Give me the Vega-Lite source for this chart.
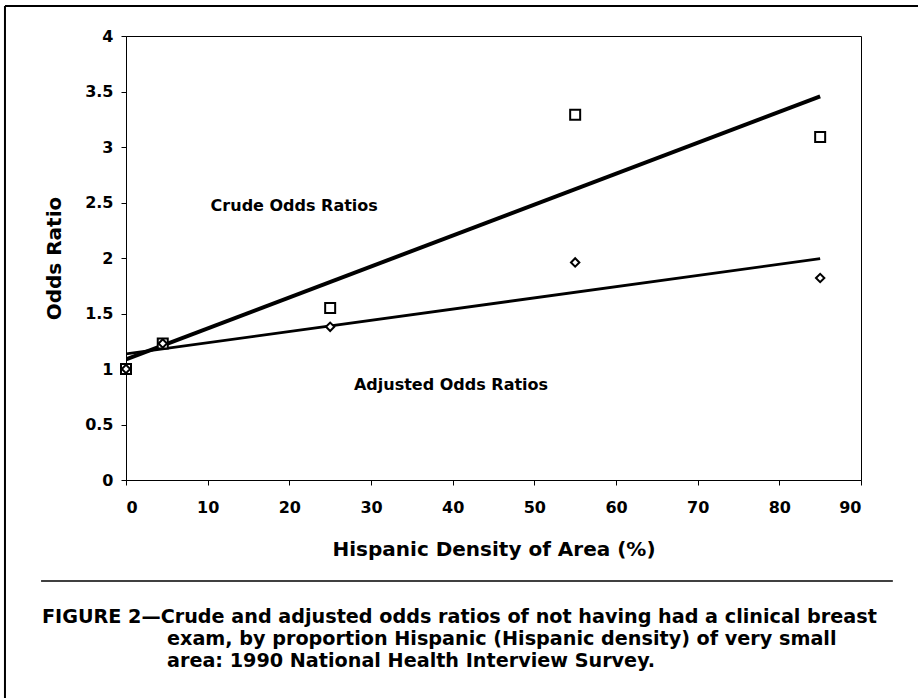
{
  "$schema": "https://vega.github.io/schema/vega-lite/v6.json",
  "width": 735,
  "height": 444,
  "autosize": {"type": "none"},
  "padding": {"left": 126, "top": 36, "right": 57, "bottom": 218},
  "background": "white",
  "config": {
    "font": "DejaVu Sans",
    "view": {"stroke": "black", "strokeWidth": 1},
    "axis": {
      "domainColor": "black",
      "domainWidth": 1,
      "tickColor": "black",
      "tickSize": 5,
      "labelFont": "DejaVu Sans",
      "labelFontWeight": "bold",
      "labelFontSize": 16,
      "labelColor": "black",
      "titleFont": "DejaVu Sans",
      "titleFontWeight": "bold",
      "titleFontSize": 20,
      "titleColor": "black",
      "grid": false
    }
  },
  "data": {
    "values": [
      {"density": 0, "odds": 1.0, "series": "Crude"},
      {"density": 4.5, "odds": 1.23, "series": "Crude"},
      {"density": 25, "odds": 1.55, "series": "Crude"},
      {"density": 55, "odds": 3.29, "series": "Crude"},
      {"density": 85, "odds": 3.09, "series": "Crude"},
      {"density": 0, "odds": 1.0, "series": "Adjusted"},
      {"density": 4.5, "odds": 1.23, "series": "Adjusted"},
      {"density": 25, "odds": 1.38, "series": "Adjusted"},
      {"density": 55, "odds": 1.96, "series": "Adjusted"},
      {"density": 85, "odds": 1.82, "series": "Adjusted"}
    ]
  },
  "layer": [
    {
      "transform": [{"regression": "odds", "on": "density", "groupby": ["series"]}],
      "mark": {"type": "line", "color": "black", "clip": true},
      "encoding": {
        "x": {
          "field": "density", "type": "quantitative",
          "scale": {"domain": [0, 90], "nice": false, "zero": false},
          "axis": {"values": [0,10,20,30,40,50,60,70,80,90], "title": "Hispanic Density of Area (%)", "labelPadding": 14, "titlePadding": 24}
        },
        "y": {
          "field": "odds", "type": "quantitative",
          "scale": {"domain": [0, 4], "nice": false, "zero": false},
          "axis": {"values": [0,0.5,1,1.5,2,2.5,3,3.5,4], "format": "~g", "title": "Odds Ratio", "labelPadding": 8, "titlePadding": 20}
        },
        "detail": {"field": "series"},
        "strokeWidth": {"field": "series", "type": "nominal", "scale": {"domain": ["Crude", "Adjusted"], "range": [4, 2.8]}, "legend": null}
      }
    },
    {
      "mark": {"type": "point", "filled": true, "fill": "white", "stroke": "black", "strokeWidth": 2, "opacity": 1},
      "encoding": {
        "x": {"field": "density", "type": "quantitative"},
        "y": {"field": "odds", "type": "quantitative"},
        "shape": {"field": "series", "type": "nominal", "scale": {"domain": ["Crude", "Adjusted"], "range": ["square", "diamond"]}, "legend": null},
        "size": {"field": "series", "type": "nominal", "scale": {"domain": ["Crude", "Adjusted"], "range": [100, 70]}, "legend": null}
      }
    },
    {
      "data": {"values": [{}]},
      "mark": {"type": "text", "text": "Crude Odds Ratios", "font": "DejaVu Sans", "fontWeight": "bold", "fontSize": 16, "align": "center", "baseline": "alphabetic", "color": "black"},
      "encoding": {"x": {"datum": 20.6}, "y": {"datum": 2.42}}
    },
    {
      "data": {"values": [{}]},
      "mark": {"type": "text", "text": "Adjusted Odds Ratios", "font": "DejaVu Sans", "fontWeight": "bold", "fontSize": 16, "align": "center", "baseline": "alphabetic", "color": "black"},
      "encoding": {"x": {"datum": 39.8}, "y": {"datum": 0.81}}
    },
    {
      "data": {"values": [{}]},
      "mark": {"type": "rule", "color": "black", "strokeWidth": 1.5},
      "encoding": {"x": {"datum": -10.4}, "x2": {"datum": 93.9}, "y": {"datum": -0.91}}
    },
    {
      "data": {"values": [{}]},
      "mark": {"type": "rule", "color": "black", "strokeWidth": 2},
      "encoding": {"x": {"datum": -14.82}, "y": {"datum": 4.27}, "y2": {"datum": -1.97}}
    },
    {
      "data": {"values": [{}]},
      "mark": {"type": "rule", "color": "black", "strokeWidth": 2},
      "encoding": {"x": {"datum": -14.82}, "x2": {"datum": 97}, "y": {"datum": 4.27}}
    },
    {
      "data": {"values": [{}]},
      "mark": {"type": "text", "text": "FIGURE 2\u2014Crude and adjusted odds ratios of not having had a clinical breast", "font": "DejaVu Sans", "fontWeight": "bold", "fontSize": 19.2, "align": "left", "baseline": "alphabetic", "color": "black"},
      "encoding": {"x": {"datum": -10.29}, "y": {"datum": -1.288}}
    },
    {
      "data": {"values": [{}]},
      "mark": {"type": "text", "text": ["exam, by proportion Hispanic (Hispanic density) of very small", "area: 1990 National Health Interview Survey."], "font": "DejaVu Sans", "fontWeight": "bold", "fontSize": 19.2, "lineHeight": 22, "align": "left", "baseline": "alphabetic", "color": "black"},
      "encoding": {"x": {"datum": 5.02}, "y": {"datum": -1.486}}
    }
  ]
}
